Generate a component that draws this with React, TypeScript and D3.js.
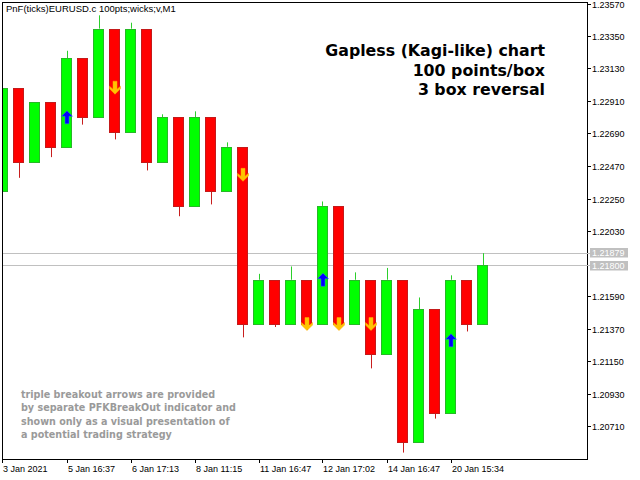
import React from 'react';
import * as d3 from 'd3';

const WIDTH = 640;
const HEIGHT = 480;

// plot frame (MT4 style: price axis on the right, time axis at bottom)
const margin = { l: 2, t: 2, r: 53, b: 21 };

// gapless PnF columns: each opens where the previous closed
const opens = [
  1.223, 1.23, 1.225, 1.229, 1.226, 1.232, 1.228, 1.234, 1.227, 1.234, 1.225, 1.228, 1.222, 1.228,
  1.223, 1.226, 1.214, 1.217, 1.214, 1.217, 1.214, 1.222, 1.214, 1.217, 1.212, 1.217, 1.206, 1.215,
  1.208, 1.217, 1.214,
];
const closes = [
  1.23, 1.225, 1.229, 1.226, 1.232, 1.228, 1.234, 1.227, 1.234, 1.225, 1.228, 1.222, 1.228, 1.223,
  1.226, 1.214, 1.217, 1.214, 1.217, 1.214, 1.222, 1.214, 1.217, 1.212, 1.217, 1.206, 1.215, 1.208,
  1.217, 1.214, 1.218,
];
// wick extreme beyond the close (high for green, low for red)
const wicks = [
  null, 1.2239, 1.229, 1.2253, 1.2325, 1.2275, 1.2349, 1.2265, 1.2344, 1.2244, 1.2282, 1.2213,
  1.2284, 1.2221, 1.2263, 1.2131, 1.2174, 1.2138, 1.2179, 1.2136, 1.2223, null, 1.2175, 1.211,
  1.2178, 1.2053, 1.2158, 1.2076, 1.2173, 1.2135, 1.2188,
];

// PFKBreakOut arrows
const arrowCols = [4, 7, 15, 19, 20, 21, 23, 28];
const arrowDirs = ['up', 'down', 'down', 'down', 'up', 'down', 'down', 'up'];
const arrowPrices = [1.228, 1.23, 1.2241, 1.214, 1.217, 1.214, 1.214, 1.2129];

const timeTickCols = [0, 4, 8, 12, 16, 20, 24, 28];
const timeTickLabels = [
  '3 Jan 2021',
  '5 Jan 16:37',
  '6 Jan 17:13',
  '8 Jan 11:15',
  '11 Jan 16:47',
  '12 Jan 17:02',
  '14 Jan 16:47',
  '20 Jan 15:34',
];

const priceTicks = [
  1.2357, 1.2335, 1.2313, 1.2291, 1.2269, 1.2247, 1.2225, 1.2203, 1.2159, 1.2137, 1.2115, 1.2093,
  1.2071,
];
const priceLines = [1.21879, 1.218];

const titleLines = ['Gapless (Kagi-like) chart', '100 points/box', '3 box reversal'];
const noteLines = [
  'triple breakout arrows are provided',
  'by separate PFKBreakOut indicator and',
  'shown only as a visual presentation of',
  'a potential trading strategy',
];

const GREEN = '#00ff00';
const GREEN_EDGE = '#27b827';
const RED = '#ff0000';
const RED_EDGE = '#c41a1a';
const axisFont = '"Liberation Sans", Arial, sans-serif';
const boldFont = '"DejaVu Sans", Verdana, sans-serif';

const arrowUp = 'M0,-6.5 L5.5,-1 L2,-1 L2,6.5 L-2,6.5 L-2,-1 L-5.5,-1 Z';
const arrowDown = 'M0,6.5 L5.5,1 L5.5,-1.5 L2,1.5 L2,-6.5 L-2,-6.5 L-2,1.5 L-5.5,-1.5 L-5.5,1 Z';

const App = () => {
  const right = WIDTH - margin.r;
  const bottom = HEIGHT - margin.b;

  const x = d3.scaleLinear().domain([0, 30]).range([2.5, 482.5]);
  const y = d3.scaleLinear().domain([1.2335, 1.2071]).range([36, 426]);
  const candleW = 11;

  return (
    <svg
      width={WIDTH}
      height={HEIGHT}
      viewBox={`0 0 ${WIDTH} ${HEIGHT}`}
      style={{ position: 'fixed', left: 0, top: 0, background: '#fff' }}
    >
      <defs>
        <clipPath id="plot">
          <rect x={margin.l + 0.5} y={margin.t + 0.5} width={right - margin.l - 1} height={bottom - margin.t - 1} />
        </clipPath>
      </defs>
      <rect width={WIDTH} height={HEIGHT} fill="#fff" />

      {/* current price lines */}
      {priceLines.map((p) => (
        <line
          key={`pl-${p}`}
          x1={margin.l}
          x2={right}
          y1={Math.round(y(p)) + 0.5}
          y2={Math.round(y(p)) + 0.5}
          stroke="#c0c0c0"
        />
      ))}

      <g clipPath="url(#plot)">
        {/* wicks */}
        {closes.map((c, i) => {
          const w = wicks[i];
          if (w === null) return null;
          const up = c > opens[i];
          const cx = Math.round(x(i)) + 0.5;
          return (
            <line
              key={`w-${i}`}
              x1={cx}
              x2={cx}
              y1={y(c)}
              y2={y(w)}
              stroke={up ? '#2ccf2c' : '#c81e1e'}
              strokeWidth={1}
            />
          );
        })}
        {/* bodies */}
        {closes.map((c, i) => {
          const up = c > opens[i];
          const top = Math.round(y(Math.max(c, opens[i])));
          const bot = Math.round(y(Math.min(c, opens[i])));
          return (
            <rect
              key={`c-${i}`}
              x={Math.round(x(i) - candleW / 2) + 0.5}
              y={top + 0.5}
              width={candleW - 1}
              height={bot - top}
              fill={up ? GREEN : RED}
              stroke={up ? GREEN_EDGE : RED_EDGE}
              strokeWidth={1}
            />
          );
        })}
        {/* breakout arrows */}
        {arrowCols.map((col, k) => (
          <path
            key={`a-${k}`}
            d={arrowDirs[k] === 'up' ? arrowUp : arrowDown}
            transform={`translate(${x(col) + 0.5},${y(arrowPrices[k])})`}
            fill={arrowDirs[k] === 'up' ? '#0000ff' : '#ffc400'}
            stroke={arrowDirs[k] === 'up' ? '#3a6cff' : '#ffaa00'}
            strokeWidth={0.5}
          />
        ))}
      </g>

      {/* frame */}
      <rect
        x={margin.l + 0.5}
        y={margin.t + 0.5}
        width={right - margin.l}
        height={bottom - margin.t}
        fill="none"
        stroke="#000"
      />

      {/* price axis */}
      {priceTicks.map((p) => (
        <g key={`pt-${p}`} transform={`translate(${right},${Math.round(y(p)) + 0.5})`}>
          <line x1={0} x2={4} stroke="#000" />
          <text
            x={5}
            dy="0.35em"
            fontSize={9}
            fontFamily={axisFont}
            fill="#000"
          >
            {d3.format('.5f')(p)}
          </text>
        </g>
      ))}
      {priceLines.map((p, i) => {
        const py = Math.round(y(p));
        const top = i === 0 ? py - 5 : py - 4;
        return (
          <g key={`pbl-${p}`}>
            <line x1={right} x2={right + 4} y1={py + 0.5} y2={py + 0.5} stroke="#c0c0c0" />
            <rect x={right + 3} y={top} width={38} height={9.5} fill="#c0c0c0" />
            <text
              x={right + 5}
              y={top + 4.9}
              dy="0.35em"
              fontSize={9}
              fontFamily={axisFont}
              fill="#fff"
            >
              {d3.format('.5f')(p)}
            </text>
          </g>
        );
      })}

      {/* time axis */}
      {timeTickCols.map((col, k) => {
        const tx = k === 0 ? margin.l : Math.round(x(col));
        return (
          <g key={`tt-${col}`} transform={`translate(${tx},${bottom})`}>
            <line x1={0.5} x2={0.5} y1={0} y2={4} stroke="#000" />
            <text x={1} y={13} fontSize={9} fontFamily={axisFont} fill="#000">
              {timeTickLabels[k]}
            </text>
          </g>
        );
      })}

      {/* symbol caption */}
      <text x={6} y={12} fontSize={9.5} fontFamily={axisFont} fill="#000">
        PnF(ticks)EURUSD.c 100pts;wicks;v,M1
      </text>

      {/* chart type */}
      {titleLines.map((t, i) => (
        <text
          key={`tl-${i}`}
          x={545}
          y={56 + i * 19.5}
          textAnchor="end"
          fontSize={15.8}
          fontWeight="bold"
          fontFamily={boldFont}
          fill="#000"
        >
          {t}
        </text>
      ))}

      {/* note */}
      {noteLines.map((t, i) => (
        <text
          key={`nl-${i}`}
          x={21}
          y={398 + i * 13.3}
          fontSize={9.6}
          fontWeight="bold"
          fontFamily={boldFont}
          fill="#9a9a9a"
        >
          {t}
        </text>
      ))}
    </svg>
  );
};

export default App;
